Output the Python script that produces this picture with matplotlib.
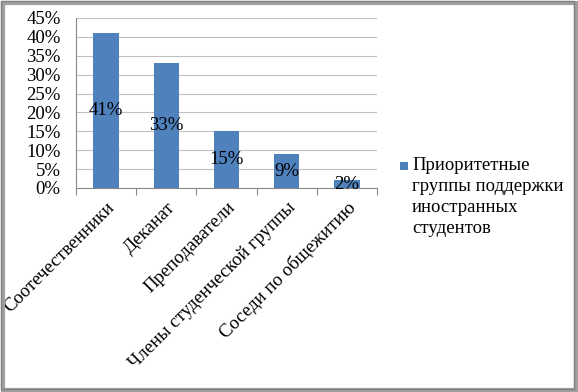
import matplotlib.pyplot as plt
from matplotlib.patches import Rectangle
import numpy as np

categories = ['Соотечественники', 'Деканат', 'Преподаватели',
              'Члены студенческой группы', 'Соседи по общежитию']
values = [41, 33, 15, 9, 2]
series_name = 'Приоритетные\nгруппы поддержки\nиностранных\nстудентов'
yticks = [0, 5, 10, 15, 20, 25, 30, 35, 40, 45]

plt.rcParams['font.family'] = 'serif'
plt.rcParams['font.serif'] = ['Liberation Serif', 'DejaVu Serif']
FONT = dict(family='Liberation Serif', size=13.5)
BLUE = '#4F81BD'

fig = plt.figure(figsize=(5.78, 3.92), dpi=100, facecolor='white')
ax = fig.add_axes([76 / 578, 1 - 188 / 392, 301 / 578, 170 / 392])

x = np.arange(len(categories))
bars = ax.bar(x, values, width=0.42, color=BLUE, zorder=3)

# data labels in the middle of each bar
for xi, v in zip(x, values):
    ax.text(xi, v / 2, f'{v}%', ha='center', va='center', fontdict=FONT, zorder=4)

ax.set_xlim(-0.5, len(categories) - 0.5)
ax.set_ylim(0, 45)
ax.set_yticks(yticks)
ax.set_yticklabels([f'{t}%' for t in yticks], fontdict=FONT)
ax.tick_params(axis='y', length=0, pad=11)
ax.grid(axis='y', color='#c0c0c0', linewidth=0.8, zorder=0)

# ticks between categories
ax.set_xticks(np.arange(len(categories) + 1) - 0.5)
ax.set_xticklabels([])
ax.tick_params(axis='x', length=5, color='#888888', direction='out')
ax.set_xticks(x, minor=True)
ax.set_xticklabels(categories, minor=True, rotation=45, ha='right',
                   rotation_mode='anchor', fontdict=FONT)
ax.tick_params(axis='x', which='minor', length=0, pad=8)

for s in ['top', 'right']:
    ax.spines[s].set_visible(False)
ax.spines['left'].set_color('#888888')
ax.spines['bottom'].set_color('#888888')

# legend: square aligned with first line of the series name
fig.patches.append(Rectangle((400 / 578, 1 - 170 / 392), 8 / 578, 8 / 392,
                             transform=fig.transFigure, facecolor=BLUE,
                             edgecolor='none'))
fig.text(412 / 578, 1 - 157 / 392, series_name, ha='left', va='top',
         fontdict=FONT, linespacing=1.3)

# border with shadow
fig.patches.append(Rectangle((3 / 578, 2 / 392), 573 / 578, 387 / 392,
                             transform=fig.transFigure, facecolor='none',
                             edgecolor='#a0a0a0', linewidth=3))
fig.patches.append(Rectangle((1 / 578, 3 / 392), 573 / 578, 388 / 392,
                             transform=fig.transFigure, facecolor='none',
                             edgecolor='#808080', linewidth=1))

fig.savefig('out.png', dpi=100, facecolor='white')
